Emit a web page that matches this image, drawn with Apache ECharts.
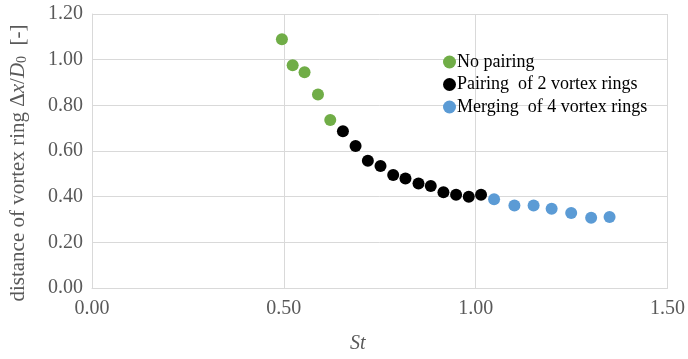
<!DOCTYPE html>
<html>
<head>
<meta charset="utf-8">
<script src="https://cdn.jsdelivr.net/npm/echarts@6/dist/echarts.min.js"></script>
<style>
html,body{margin:0;padding:0;background:#fff;}
#chart{width:688px;height:359px;}
</style>
</head>
<body>
<div id="chart"></div>
<script>
// Data
const seriesNames = ['No pairing', 'Pairing  of 2 vortex rings', 'Merging  of 4 vortex rings'];
const noPairingSt = [0.495, 0.523, 0.554, 0.589, 0.621];
const noPairingDx = [1.089, 0.976, 0.945, 0.847, 0.736];
const pairingSt = [0.654, 0.687, 0.719, 0.752, 0.785, 0.817, 0.851, 0.883, 0.916, 0.949, 0.982, 1.014];
const pairingDx = [0.687, 0.622, 0.557, 0.534, 0.495, 0.480, 0.458, 0.447, 0.419, 0.408, 0.400, 0.408];
const mergingSt = [1.048, 1.101, 1.151, 1.198, 1.249, 1.301, 1.349];
const mergingDx = [0.389, 0.361, 0.361, 0.347, 0.328, 0.308, 0.311];
const xTicks = [0, 0.5, 1.0, 1.5];
const yTicks = [0, 0.2, 0.4, 0.6, 0.8, 1.0, 1.2];

const colors = ['#70ad47', '#000000', '#5b9bd5'];
const font = '"Liberation Serif", "Times New Roman", serif';

function pairs(xs, ys) { return xs.map((x, i) => [x, ys[i]]); }

const chart = echarts.init(document.getElementById('chart'), null, {renderer: 'canvas'});
const option = {
  animation: false,
  backgroundColor: '#ffffff',
  grid: {left: 86, right: 15, top: 14, bottom: 63, containLabel: false},
  legend: {
    orient: 'vertical',
    left: 438,
    top: 48,
    itemWidth: 13,
    itemHeight: 13,
    itemGap: 4.5,
    icon: 'circle',
    data: seriesNames,
    textStyle: {fontFamily: font, fontSize: 18, lineHeight: 18, color: '#000', padding: [0, 0, 0, -4]}
  },
  xAxis: {
    type: 'value',
    min: xTicks[0],
    max: xTicks[xTicks.length - 1],
    interval: 0.5,
    name: 'St',
    nameLocation: 'middle',
    nameGap: 46,
    nameTextStyle: {fontFamily: font, fontSize: 20, fontStyle: 'italic', color: '#595959', padding: [0, 44, 0, 0]},
    axisLine: {show: true, lineStyle: {color: '#d9d9d9', width: 1}},
    axisTick: {show: false},
    splitLine: {show: true, lineStyle: {color: '#d9d9d9', width: 1}},
    axisLabel: {fontFamily: font, fontSize: 20, color: '#595959', margin: 11,
      formatter: v => v.toFixed(2)}
  },
  yAxis: {
    type: 'value',
    min: yTicks[0],
    max: yTicks[yTicks.length - 1],
    interval: 0.2,
    name: '{a|distance of vortex ring Δ}{i|x}{a|/}{i|D}{s|0}{a|  [-]}',
    nameLocation: 'middle',
    nameGap: 63,
    nameTextStyle: {
      fontFamily: font, fontSize: 21, color: '#595959', padding: [0, 24, 0, 0],
      rich: {
        a: {fontFamily: font, fontSize: 21, color: '#595959'},
        i: {fontFamily: font, fontSize: 21, color: '#595959', fontStyle: 'italic'},
        s: {fontFamily: font, fontSize: 14, color: '#595959', padding: [7, 0, 0, 0]}
      }
    },
    axisLine: {show: true, lineStyle: {color: '#d9d9d9', width: 1}},
    axisTick: {show: false},
    splitLine: {show: true, lineStyle: {color: '#d9d9d9', width: 1}},
    axisLabel: {fontFamily: font, fontSize: 20, color: '#595959', margin: 9,
      formatter: v => v.toFixed(2)}
  },
  series: [
    {name: seriesNames[0], type: 'scatter', symbol: 'circle', symbolSize: 12,
      itemStyle: {color: colors[0], opacity: 1}, data: pairs(noPairingSt, noPairingDx)},
    {name: seriesNames[1], type: 'scatter', symbol: 'circle', symbolSize: 12,
      itemStyle: {color: colors[1], opacity: 1}, data: pairs(pairingSt, pairingDx)},
    {name: seriesNames[2], type: 'scatter', symbol: 'circle', symbolSize: 12,
      itemStyle: {color: colors[2], opacity: 1}, data: pairs(mergingSt, mergingDx)}
  ]
};
chart.setOption(option);
</script>
</body>
</html>
